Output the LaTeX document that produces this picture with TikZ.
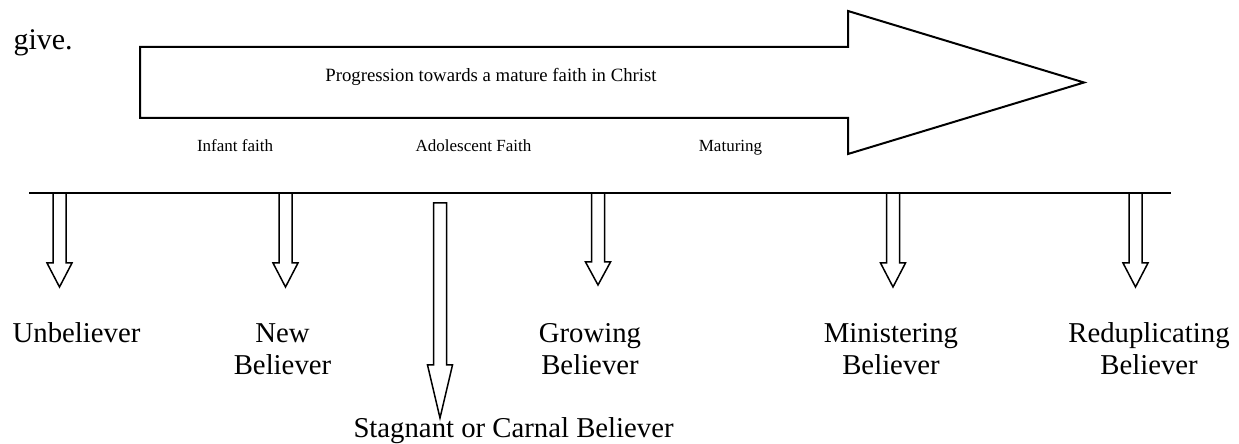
\documentclass[tikz,border=0pt]{standalone}
\usepackage{fontspec}
\setmainfont{Liberation Serif}
\usepackage{tikz}

\tikzset{
  bigtext/.style={font=\fontsize{11.5}{12.8}\selectfont, align=center, inner sep=0pt},
  smalltext/.style={font=\fontsize{6.8}{8}\selectfont, inner sep=0pt},
  blockarrow/.style={draw, line width=0.6pt, line join=miter},
}

% block arrow pointing down: x, top, start of head, tip
\newcommand{\blockdown}[4]{%
  \draw[blockarrow] (#1-6.5,#2) -- (#1+6.5,#2) -- (#1+6.5,#3) -- (#1+12.5,#3)
    -- (#1,#4) -- (#1-12.5,#3) -- (#1-6.5,#3) -- cycle;}

\begin{document}
\begin{tikzpicture}[x=0.4pt, y=-0.4pt]
\useasboundingbox (0,0) rectangle (1239,444);

\node[bigtext, font=\fontsize{12}{12.8}\selectfont, anchor=base west] (give) at (13,50) {give.};

\draw[line width=0.8pt, line join=miter] (140,47) -- (848,47) -- (848,11) -- (1084,82.5)
  -- (848,154) -- (848,118) -- (140,118) -- cycle;
\node[smalltext, font=\fontsize{7.5}{9}\selectfont, anchor=base] (progress) at (491,81.5) {Progression towards a mature faith in Christ};

\node[smalltext, anchor=base] (infant) at (235,152) {Infant faith};
\node[smalltext, anchor=base] (adolescent) at (473.5,152) {Adolescent Faith};
\node[smalltext, anchor=base] (maturing) at (730.5,152) {Maturing};

\coordinate (lineL) at (29,193);
\coordinate (lineR) at (1171,193);
\draw[line width=0.8pt] (lineL) -- (lineR);

\foreach \x in {59.5,285.5,893,1135.5} \blockdown{\x}{193}{263}{287};
\blockdown{598}{193}{262}{285}
\blockdown{440}{203}{365}{418}

\node[bigtext, anchor=base] (unbeliever) at (76.5,343) {Unbeliever};
\node[bigtext, anchor=base] (newbel) at (282.5,375) {New\\Believer};
\node[bigtext, anchor=base] (growing) at (590,375) {Growing\\Believer};
\node[bigtext, anchor=base] (ministering) at (891,375) {Ministering\\Believer};
\node[bigtext, anchor=base] (redup) at (1149,375) {Reduplicating\\Believer};
\node[bigtext, anchor=base west] (stagnant) at (353,438) {Stagnant or Carnal Believer};
\end{tikzpicture}
\end{document}
